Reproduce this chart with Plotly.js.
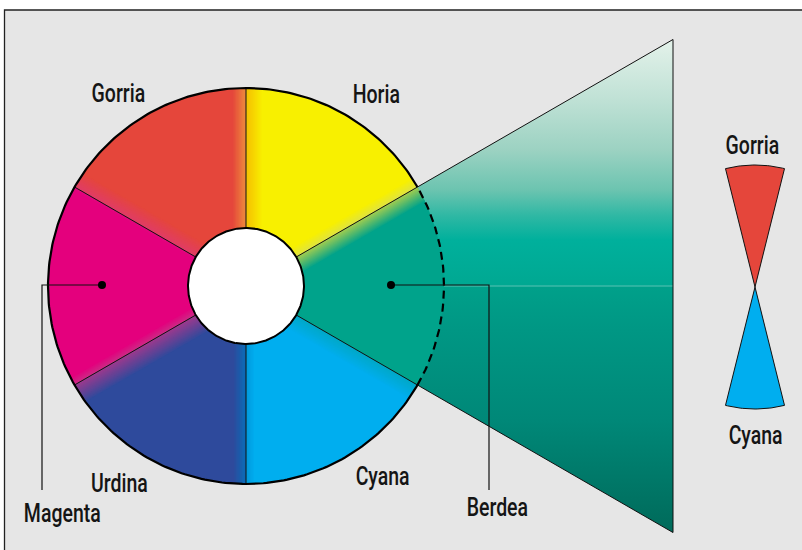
<!DOCTYPE html>
<html><head><meta charset="utf-8">
<script src="https://cdn.plot.ly/plotly-3.0.1.min.js"></script>
<style>html,body{margin:0;padding:0;background:#fff;}#chart{width:802px;height:550px;}</style>
</head><body><div id="chart"></div>
<script>
// ---- Data ----
const categories   = ['Horia', 'Gorria', 'Magenta', 'Urdina', 'Cyana', 'Berdea'];
const startAngles  = [30, 90, 150, 210, 270, 330];   // degrees, counter-clockwise
const spanAngles   = [60, 60, 60, 60, 60, 60];
const wedgeColors  = ['#f8f000', '#e5463b', '#e4007d', '#2e4a9c', '#00aeef', '#00a38b'];
// blend colours at each wedge boundary (boundary = start angle of wedge i)
const cwLineColors  = ['#a0cc50', '#f5c000', '#e03c66', '#cc2a86', '#0a6cb8', '#00a8c8']; // side of wedge ending there
const cwBandWidth   = [16, 16, 16, 8, 12, 16];
const ccwLineColors = ['#e0e440', '#ee8a3c', '#e2087e', '#9c3a8e', '#0098dc', '#00a38b']; // side of wedge starting there
const ccwBandWidth  = [10, 13, 3, 20, 8, 2];
// complementary pair shown on the right
const pairLabels = ['Gorria', 'Cyana'];
const pairColors = ['#e5463b', '#00aeef'];
const pairAngles = [90, 270];
// labels for the wheel
const wheelLabels = ['Gorria', 'Horia', 'Urdina', 'Cyana', 'Magenta', 'Berdea'];
const wheelLabelX = [-128, 130, -127, 136, -184, 251];
const wheelLabelY = [193, 192, -197, -190, -227, -221];

// ---- Geometry (pixels, origin at wheel centre) ----
const R = 198, r0 = 58, fanX = 427;
const rad = d => d * Math.PI / 180;
function arc(radius, a0, a1, cx = 0, cy = 0) {
  const n = Math.max(2, Math.ceil(Math.abs(a1 - a0)));
  const xs = [], ys = [];
  for (let i = 0; i <= n; i++) {
    const a = rad(a0 + (a1 - a0) * i / n);
    xs.push(cx + radius * Math.cos(a)); ys.push(cy + radius * Math.sin(a));
  }
  return [xs, ys];
}
function hex2rgb(h) { return [1, 3, 5].map(i => parseInt(h.substr(i, 2), 16)); }
function mix(a, b, t) {
  const A = hex2rgb(a), B = hex2rgb(b);
  return 'rgb(' + A.map((v, i) => Math.round(v + (B[i] - v) * t)).join(',') + ')';
}
const traces = [];
const poly = (xs, ys, color, extra) => Object.assign({
  type: 'scatter', mode: 'lines', x: xs, y: ys, fill: 'toself', fillcolor: color,
  line: {width: 0}, hoverinfo: 'skip', showlegend: false
}, extra || {});
const line = (xs, ys, color, width, dash) => ({
  type: 'scatter', mode: 'lines', x: xs, y: ys, line: {color: color, width: width, dash: dash || 'solid'},
  hoverinfo: 'skip', showlegend: false
});

// fan (Berdea wedge enlarged)
const berdeaIdx = categories.indexOf('Berdea');
const fa0 = startAngles[berdeaIdx] - 360, fa1 = fa0 + spanAngles[berdeaIdx];   // -30 .. 30
const fanY = fanX * Math.tan(rad(fa1));
traces.push(poly([0, fanX, fanX, 0], [0, fanY, -fanY, 0], '#00a38b', {
  fillgradient: {type: 'vertical', start: -fanY, stop: fanY, colorscale: [
    [0, '#006a5a'], [0.228, '#008878'], [0.411, '#009784'], [0.497, '#00a08a'],
    [0.503, '#00a892'], [0.593, '#00b09c'], [0.644, '#30b8a4'], [0.695, '#6cc4b0'],
    [0.776, '#9cd2c2'], [0.877, '#bfe1d5'], [1, '#e4f2ea']]}
}));
traces.push(line([R, fanX], [0, 0], 'rgba(255,255,255,0.35)', 1));

// wedges
categories.forEach((c, i) => {
  const a0 = startAngles[i], a1 = a0 + spanAngles[i];
  const [ox, oy] = arc(R, a0, a1), [ix, iy] = arc(r0, a1, a0);
  traces.push(poly(ox.concat(ix), oy.concat(iy), wedgeColors[i]));
});
// colour blends along boundaries
function band(theta, side, w, lineCol, wedgeCol) {
  const ux = Math.cos(rad(theta)), uy = Math.sin(rad(theta));
  const nx = -uy * side, ny = ux * side;
  const k = Math.max(1, Math.ceil(w / 1.2));
  const P = (d, t) => [d * nx + t * ux, d * ny + t * uy];
  for (let i = k - 1; i >= 0; i--) {
    const d1 = w * i / k, d2 = Math.min(w * (i + 1) / k + 0.6, w);
    const col = mix(lineCol, wedgeCol, (i + 0.5) / k);
    const tin = d => Math.sqrt(r0 * r0 - d * d), tout = d => Math.sqrt(R * R - d * d);
    const pts = [P(d1, tin(d1)), P(d1, tout(d1)), P(d2, tout(d2)), P(d2, tin(d2))];
    traces.push(poly(pts.map(p => p[0]), pts.map(p => p[1]), col));
  }
}
startAngles.forEach((a, i) => {
  const prev = (i + categories.length - 1) % categories.length;
  band(a, -1, cwBandWidth[i], cwLineColors[i], wedgeColors[prev]);
  band(a, 1, ccwBandWidth[i], ccwLineColors[i], wedgeColors[i]);
});
// boundary lines
const bx = [], by = [];
startAngles.forEach(a => {
  bx.push(r0 * Math.cos(rad(a)), R * Math.cos(rad(a)), null);
  by.push(r0 * Math.sin(rad(a)), R * Math.sin(rad(a)), null);
});
traces.push(line(bx, by, '#111', 1));
// fan outline
traces.push(line([R * Math.cos(rad(fa1)), fanX, fanX, R * Math.cos(rad(fa0))],
                 [R * Math.sin(rad(fa1)), fanY, -fanY, R * Math.sin(rad(fa0))], '#111', 1));
// outer outline: solid around the wheel, dashed over the Berdea wedge
const [sx, sy] = arc(R, fa1, fa0 + 360);
traces.push(line(sx, sy, '#000', 2.2));
const [dx, dy] = arc(R, fa0, fa1);
traces.push(line(dx, dy, '#000', 2.2, '8px,5px'));
// inner hole
const [hx, hy] = arc(r0, 0, 360);
traces.push(poly(hx, hy, '#ffffff', {line: {color: '#000', width: 2}}));
// leader lines
traces.push(line([-144, -204, -204], [1, 1, -204], '#111', 1.2));
traces.push(line([145, 243, 243], [1, 1, -204], '#111', 1.2));
traces.push({type: 'scatter', mode: 'markers', x: [-144, 145], y: [1, 1],
  marker: {color: '#000', size: 8}, hoverinfo: 'skip', showlegend: false});
// complementary pair (bow-tie)
const bowX = 509, bowY = -1, bowR = 122, bowHalf = 14;
pairAngles.forEach((a, i) => {
  const [ax, ay] = arc(bowR, a - bowHalf, a + bowHalf, bowX, bowY);
  traces.push(poly([bowX].concat(ax, [bowX]), [bowY].concat(ay, [bowY]), pairColors[i],
    {line: {color: '#111', width: 1}}));
});

const font = {family: 'Roboto, "DejaVu Sans Condensed", sans-serif', size: 25, weight: 500, color: '#151515'};
const annotations = wheelLabels.map((t, i) => ({
  text: t, x: wheelLabelX[i], y: wheelLabelY[i], xref: 'x', yref: 'y',
  showarrow: false, xanchor: 'center', yanchor: 'middle', font: font
})).concat(pairLabels.map((t, i) => ({
  text: t, x: bowX - 3 + 3 * i, y: i === 0 ? 141 : -149, xref: 'x', yref: 'y',
  showarrow: false, xanchor: 'center', yanchor: 'middle', font: font
})));

const layout = {
  width: 802, height: 550, autosize: false,
  margin: {l: 0, r: 0, t: 0, b: 0, pad: 0},
  paper_bgcolor: '#ffffff', plot_bgcolor: '#ffffff',
  xaxis: {range: [-246, 556], visible: false, fixedrange: true},
  yaxis: {range: [-264, 286], visible: false, fixedrange: true},
  showlegend: false, hovermode: false,
  shapes: [{type: 'rect', xref: 'x', yref: 'y', x0: -241.5, y0: 276, x1: 700, y1: -400,
    fillcolor: '#e6e6e6', line: {color: '#222', width: 1.3}, layer: 'below'}],
  annotations: annotations
};
Plotly.newPlot('chart', traces, layout, {displayModeBar: false, staticPlot: true}).then(gd => {
  // condensed lettering, as in the original
  gd.querySelectorAll('.annotation-text').forEach(el => {
    const w = el.getComputedTextLength();
    el.setAttribute('lengthAdjust', 'spacingAndGlyphs');
    el.setAttribute('textLength', (w * 0.78).toFixed(1));
  });
});
</script></body></html>
